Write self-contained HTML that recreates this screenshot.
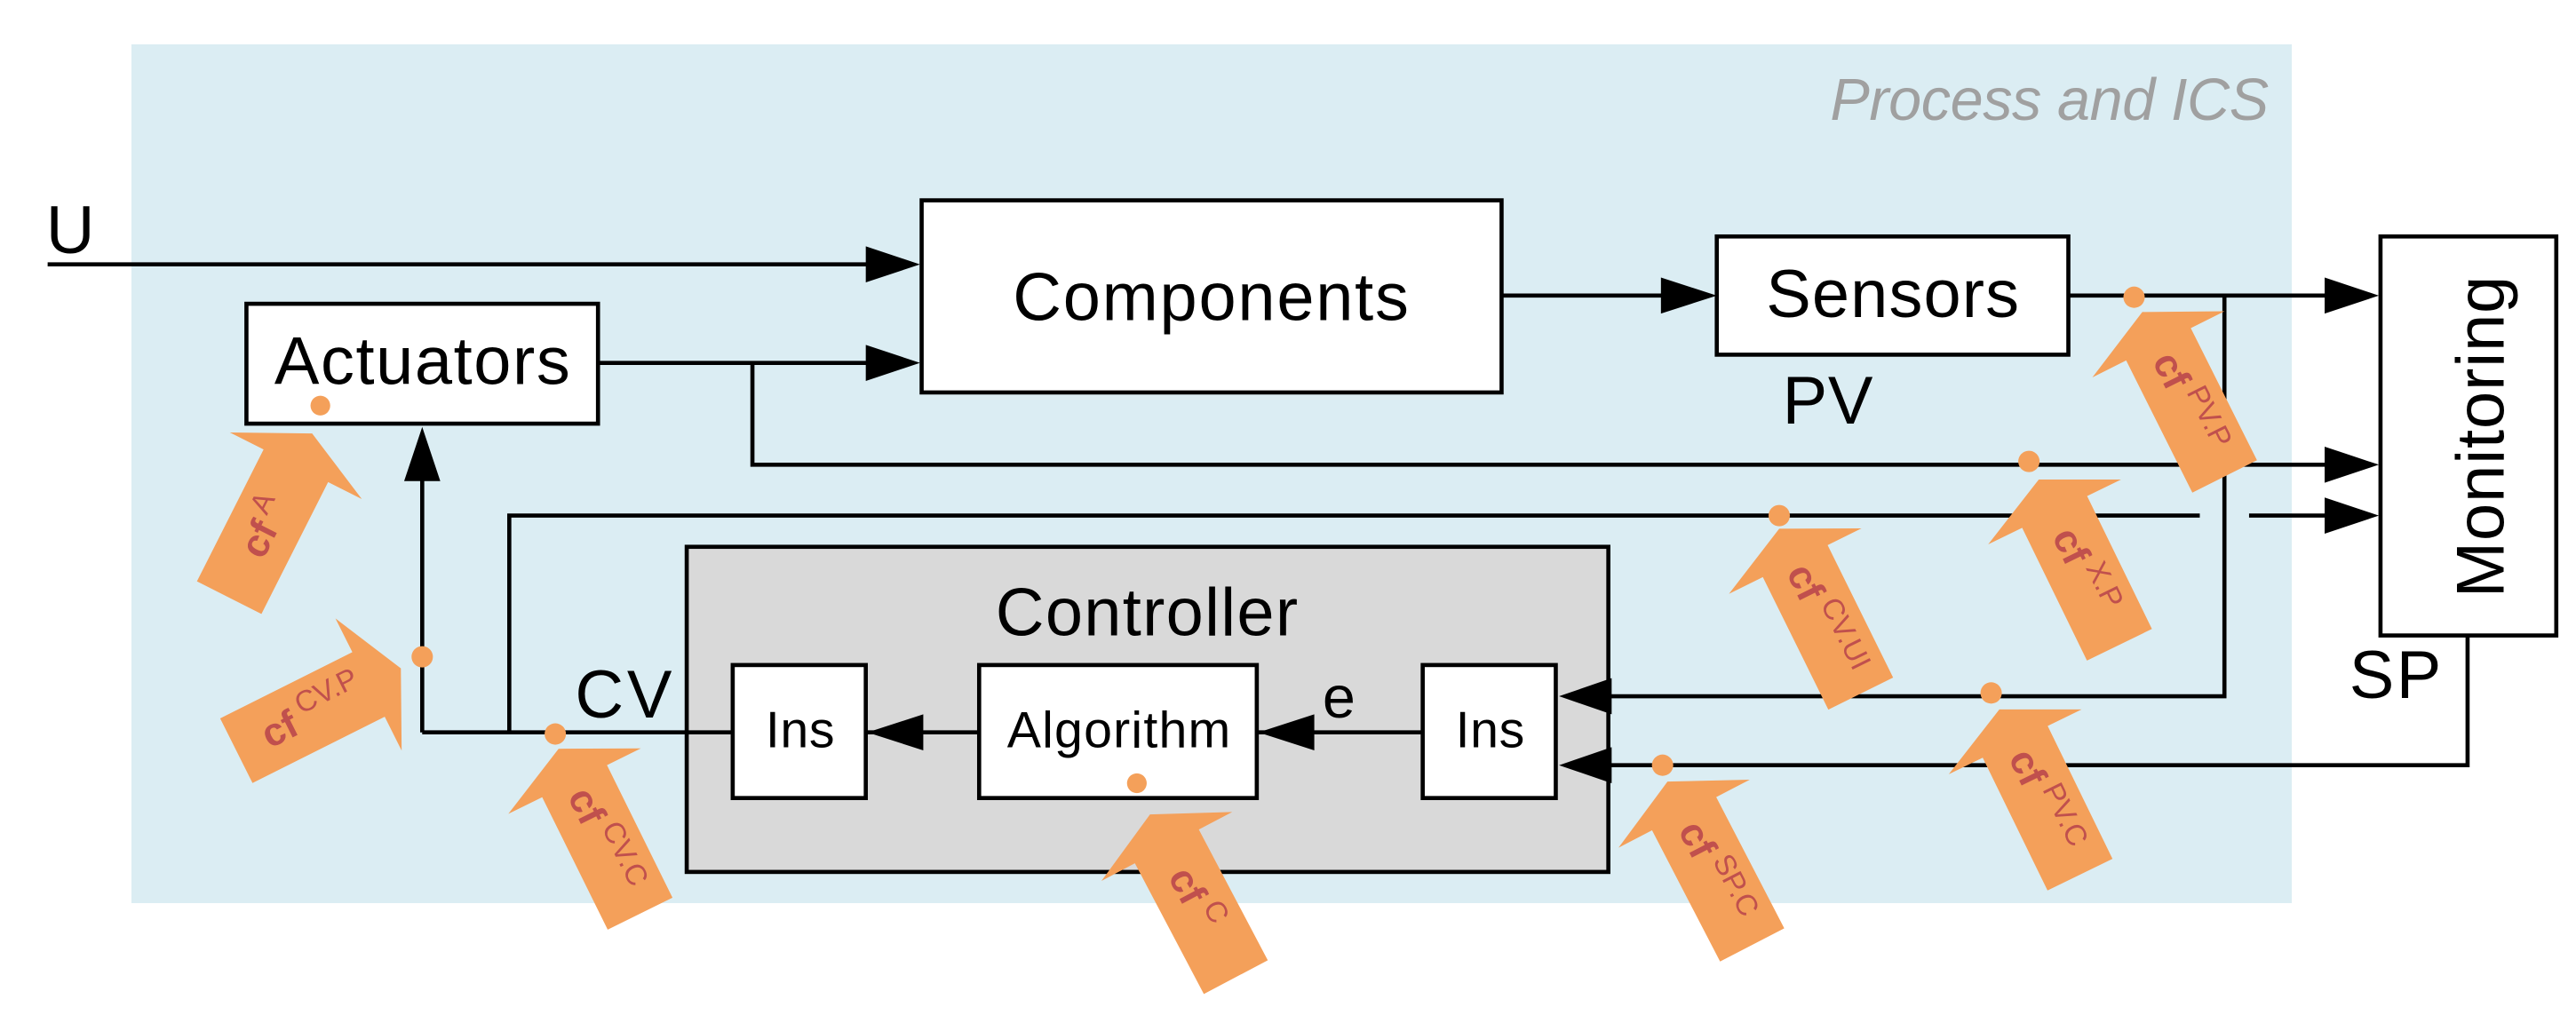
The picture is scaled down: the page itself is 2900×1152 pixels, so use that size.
<!DOCTYPE html>
<html><head><meta charset="utf-8"><style>
html,body{margin:0;padding:0;background:#fff;}
svg{display:block;}
text{font-family:"Liberation Sans",Arial,sans-serif;}
</style></head><body>
<svg width="2900" height="1152" viewBox="0 0 1568 623" preserveAspectRatio="none" xmlns="http://www.w3.org/2000/svg">
<defs>
<polygon id="ar" points="0,0 45,22 22,22 22,112 -22,112 -22,22 -45,22" fill="#f4a05a"/>
</defs>
<rect x="80" y="27" width="1315" height="523" fill="#dbedf3"/>
<text x="1381" y="73" font-size="36" font-style="italic" fill="#a0a0a0" text-anchor="end" textLength="267">Process and ICS</text>
<!-- Controller -->
<rect x="418" y="333" width="561" height="198" fill="#d9d9d9" stroke="#000" stroke-width="2.5"/>

<g stroke="#000" stroke-width="2.5" fill="none">
<line x1="29" y1="161" x2="530" y2="161"/>
<line x1="364" y1="221" x2="530" y2="221"/>
<polyline points="458,221 458,283 1420,283"/>
<polyline points="310,446 310,314 1339,314"/>
<line x1="1369" y1="314" x2="1420" y2="314"/>
<line x1="257" y1="446" x2="446" y2="446"/>
<line x1="257" y1="446" x2="257" y2="290"/>
<line x1="914" y1="180" x2="1015" y2="180"/>
<line x1="1259" y1="180" x2="1420" y2="180"/>
<polyline points="1354,180 1354,424 975,424"/>
<polyline points="1502,387 1502,466 975,466"/>
<line x1="527" y1="446" x2="596" y2="446"/>
<line x1="765" y1="446" x2="866" y2="446"/>
</g>
<g fill="#fff" stroke="#000" stroke-width="2.5">
<rect x="561" y="122" width="353" height="117"/>
<rect x="150" y="185" width="214" height="73"/>
<rect x="1045" y="144" width="214" height="72"/>
<rect x="1449" y="144" width="107" height="243"/>
<rect x="446" y="405" width="81" height="81"/>
<rect x="596" y="405" width="169" height="81"/>
<rect x="866" y="405" width="81" height="81"/>
</g>
<g fill="#000">
<polygon points="560,161 527,150 527,172"/>
<polygon points="560,221 527,210 527,232"/>
<polygon points="1045,180 1011,169 1011,191"/>
<polygon points="1448,180 1415,169 1415,191"/>
<polygon points="1448,283 1415,272 1415,294"/>
<polygon points="1448,314 1415,303 1415,325"/>
<polygon points="257,260 246,293 268,293"/>
<polygon points="528,446 562,435 562,457"/>
<polygon points="766,446 800,435 800,457"/>
<polygon points="949,424 981,413 981,435"/>
<polygon points="949,466 981,455 981,477"/>
</g>
<g fill="#000" font-size="41">
<text x="28" y="154" textLength="26">U</text>
<text x="737" y="195" text-anchor="middle" textLength="241">Components</text>
<text x="257" y="234" text-anchor="middle" textLength="180">Actuators</text>
<text x="1152" y="193" text-anchor="middle" textLength="154">Sensors</text>
<text x="1085" y="258" textLength="55">PV</text>
<text x="698" y="387" text-anchor="middle" textLength="184">Controller</text>
<text x="350" y="437" textLength="59">CV</text>
<text x="805" y="437" font-size="36">e</text>
<text x="1430" y="425" textLength="56">SP</text>
<text transform="translate(1524,266) rotate(-90)" text-anchor="middle" textLength="196">Monitoring</text>
<text x="487" y="455" font-size="31" text-anchor="middle" textLength="42">Ins</text>
<text x="681" y="455" font-size="31" text-anchor="middle" textLength="136">Algorithm</text>
<text x="907" y="455" font-size="31" text-anchor="middle" textLength="42">Ins</text>
</g>
<g fill="#f4a05a">
<circle cx="195" cy="247" r="6"/>
<circle cx="257" cy="400" r="6.5"/>
<circle cx="338" cy="447" r="6.5"/>
<circle cx="692" cy="477" r="6"/>
<circle cx="1299" cy="181" r="6.5"/>
<circle cx="1235" cy="281" r="6.5"/>
<circle cx="1083" cy="314" r="6.5"/>
<circle cx="1212" cy="422" r="6.5"/>
<circle cx="1012" cy="466" r="6.5"/>
</g>
<g fill="#c0504d">
<g transform="translate(190,264) rotate(26.8)"><use href="#ar"/>
<text transform="translate(0,64) rotate(-90)" text-anchor="middle" dominant-baseline="central"><tspan font-size="24" font-weight="bold">cf</tspan><tspan font-size="18" dy="-8"> A</tspan></text></g>
<g transform="translate(244,407) rotate(63.4)"><use href="#ar"/>
<text transform="translate(0,60) rotate(-90)" text-anchor="middle" dominant-baseline="central"><tspan font-size="24" font-weight="bold">cf</tspan><tspan font-size="18" dy="-8"> CV.P</tspan></text></g>
<g transform="translate(340,456) rotate(-26.3)"><use href="#ar"/>
<text transform="translate(0,62) rotate(90)" text-anchor="middle" dominant-baseline="central"><tspan font-size="24" font-weight="bold">cf</tspan><tspan font-size="18" dy="-8"> CV.C</tspan></text></g>
<g transform="translate(700,496) rotate(-27.8)"><use href="#ar"/>
<text transform="translate(0,58) rotate(90)" text-anchor="middle" dominant-baseline="central"><tspan font-size="24" font-weight="bold">cf</tspan><tspan font-size="18" dy="-8"> C</tspan></text></g>
<g transform="translate(1304,190) rotate(-26.6)"><use href="#ar"/>
<text transform="translate(0,62) rotate(90)" text-anchor="middle" dominant-baseline="central"><tspan font-size="24" font-weight="bold">cf</tspan><tspan font-size="18" dy="-8"> PV.P</tspan></text></g>
<g transform="translate(1241,292) rotate(-26)"><use href="#ar"/>
<text transform="translate(0,62) rotate(90)" text-anchor="middle" dominant-baseline="central"><tspan font-size="24" font-weight="bold">cf</tspan><tspan font-size="18" dy="-8"> X.P</tspan></text></g>
<g transform="translate(1083,322) rotate(-26.3)"><use href="#ar"/>
<text transform="translate(0,62) rotate(90)" text-anchor="middle" dominant-baseline="central"><tspan font-size="24" font-weight="bold">cf</tspan><tspan font-size="18" dy="-8"> CV.UI</tspan></text></g>
<g transform="translate(1217,432) rotate(-26)"><use href="#ar"/>
<text transform="translate(0,62) rotate(90)" text-anchor="middle" dominant-baseline="central"><tspan font-size="24" font-weight="bold">cf</tspan><tspan font-size="18" dy="-8"> PV.C</tspan></text></g>
<g transform="translate(1015,476) rotate(-27.4)"><use href="#ar"/>
<text transform="translate(0,62) rotate(90)" text-anchor="middle" dominant-baseline="central"><tspan font-size="24" font-weight="bold">cf</tspan><tspan font-size="18" dy="-8"> SP.C</tspan></text></g>
</g>
</svg>
</body></html>
